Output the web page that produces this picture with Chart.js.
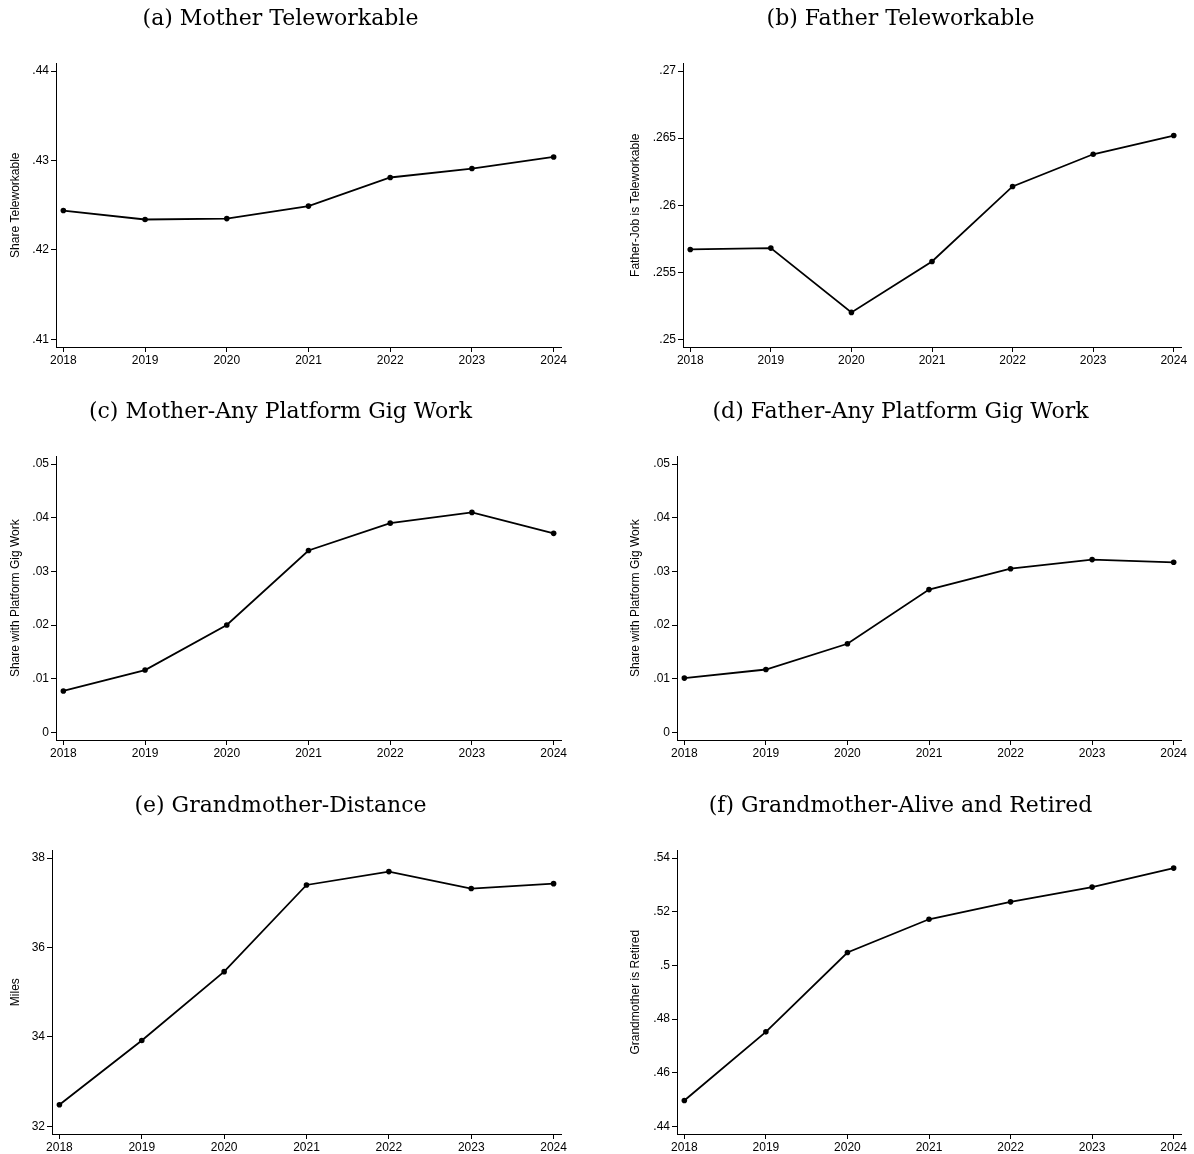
<!DOCTYPE html>
<html>
<head>
<meta charset="utf-8">
<script src="https://cdn.jsdelivr.net/npm/chart.js@4.4.1/dist/chart.umd.min.js"></script>
<style>
    body { margin: 0; background: #fff; width: 1194px; height: 1154px; overflow: hidden; position: relative; }
    canvas { position: absolute; }
</style>
</head>
<body>
<canvas id="pa"></canvas>
<canvas id="pb"></canvas>
<canvas id="pc"></canvas>
<canvas id="pd"></canvas>
<canvas id="pe"></canvas>
<canvas id="pf"></canvas>
<script>
// Data
let years = [2018, 2019, 2020, 2021, 2022, 2023, 2024];

let motherTele = [0.4244, 0.4234, 0.4235, 0.4249, 0.4281, 0.4291, 0.4304];
let fatherTele = [0.2567, 0.2568, 0.2520, 0.2558, 0.2614, 0.2638, 0.2652];
let motherGig = [0.0077, 0.0116, 0.0200, 0.0339, 0.0390, 0.0410, 0.0371];
let fatherGig = [0.0101, 0.0117, 0.0165, 0.0266, 0.0305, 0.0322, 0.0317];
let grandmaDist = [32.48, 33.92, 35.46, 37.40, 37.70, 37.32, 37.43];
let grandmaRetired = [0.4496, 0.4752, 0.5048, 0.5172, 0.5237, 0.5292, 0.5363];

// y tick values
let ticksTele = [0.41, 0.42, 0.43, 0.44];
let ticksFatherTele = [0.25, 0.255, 0.26, 0.265, 0.27];
let ticksGig = [0, 0.01, 0.02, 0.03, 0.04, 0.05];
let ticksDist = [32, 34, 36, 38];
let ticksRetired = [0.44, 0.46, 0.48, 0.5, 0.52, 0.54];

// panels: id, title, y title, series, ticks, column, row, y-axis width
let panels = [
    ['pa', '(a) Mother Teleworkable', 'Share Teleworkable', motherTele, ticksTele, 0, 0, 56],
    ['pb', '(b) Father Teleworkable', 'Father-Job is Teleworkable', fatherTele, ticksFatherTele, 1, 0, 63],
    ['pc', '(c) Mother-Any Platform Gig Work', 'Share with Platform Gig Work', motherGig, ticksGig, 0, 1, 56],
    ['pd', '(d) Father-Any Platform Gig Work', 'Share with Platform Gig Work', fatherGig, ticksGig, 1, 1, 57],
    ['pe', '(e) Grandmother-Distance', 'Miles', grandmaDist, ticksDist, 0, 2, 52],
    ['pf', '(f) Grandmother-Alive and Retired', 'Grandmother is Retired', grandmaRetired, ticksRetired, 1, 2, 57]
];

let rowTop = [0, 393, 787];
let colLeft = [0, 620];
let colWidth = [592, 574];
let colPadRight = [31, 13];
let canvasH = 377;

// Stata style labels: .43 instead of 0.43
function fmt(v){
    let s = String(+v.toFixed(4));
    return s.replace(/^0\./, '.');
}

function makePanel(p){
    let [id, title, ytitle, vals, yt, col, row, yw] = p;
    let cv = document.getElementById(id);
    cv.width = colWidth[col];
    cv.height = canvasH;
    cv.style.left = colLeft[col] + 'px';
    cv.style.top = rowTop[row] + 'px';

    let pad = (yt[yt.length - 1] - yt[0]) * 0.029;
    let tickFont = { family: 'Liberation Sans, Arial, sans-serif', size: 12 };

    return new Chart(cv.getContext('2d'), {
        type: 'line',
        data: {
            datasets: [{
                data: years.map((yr, i) => ({ x: yr, y: vals[i] })),
                borderColor: '#000',
                backgroundColor: '#000',
                borderWidth: 1.8,
                pointRadius: 2.8,
                pointBorderWidth: 0,
                tension: 0
            }]
        },
        options: {
            responsive: false,
            animation: false,
            layout: { padding: { left: 0, right: colPadRight[col], top: 0, bottom: 0 } },
            plugins: {
                legend: { display: false },
                tooltip: { enabled: false },
                title: {
                    display: true,
                    text: title,
                    color: '#000',
                    font: { family: 'DejaVu Serif, serif', size: 22, weight: 'normal' },
                    padding: { top: 6, bottom: 31 }
                }
            },
            scales: {
                x: {
                    type: 'linear',
                    min: 2017.91,
                    max: 2024.09,
                    afterBuildTicks: s => { s.ticks = years.map(v => ({ value: v })); },
                    afterFit: s => { s.height = 30; },
                    ticks: {
                        callback: v => String(v),
                        color: '#000',
                        font: tickFont,
                        padding: 1,
                        maxRotation: 0,
                        autoSkip: false
                    },
                    grid: { drawOnChartArea: false, drawTicks: true, tickLength: 5, color: '#000' },
                    border: { display: true, color: '#000', width: 1 }
                },
                y: {
                    type: 'linear',
                    min: yt[0] - pad,
                    max: yt[yt.length - 1] + pad,
                    afterBuildTicks: s => { s.ticks = yt.map(v => ({ value: v })); },
                    afterFit: s => { s.width = yw; },
                    ticks: {
                        callback: v => fmt(v),
                        color: '#000',
                        font: tickFont,
                        padding: 2,
                        autoSkip: false
                    },
                    grid: { drawOnChartArea: false, drawTicks: true, tickLength: 5, color: '#000' },
                    border: { display: true, color: '#000', width: 1 },
                    title: {
                        display: true,
                        text: ytitle,
                        color: '#000',
                        font: tickFont,
                        padding: { top: 8, bottom: 0 }
                    }
                }
            }
        }
    });
}

panels.forEach(p => makePanel(p));
</script>
</body>
</html>
